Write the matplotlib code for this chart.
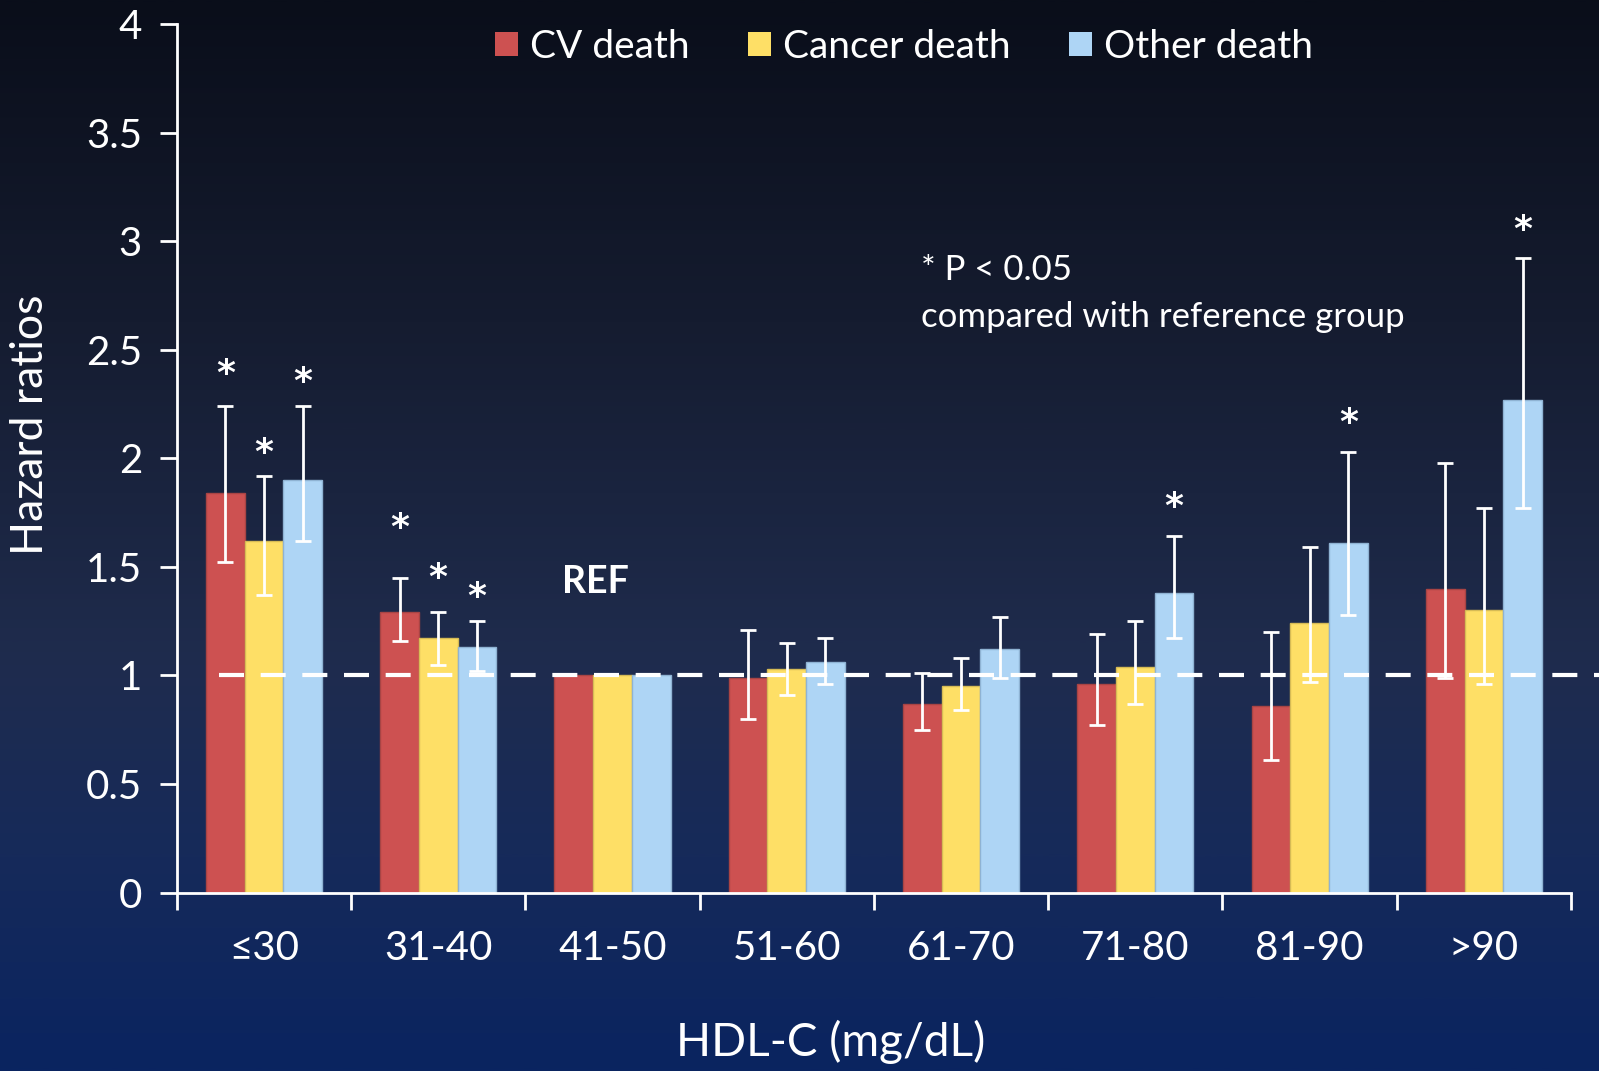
import numpy as np
import matplotlib
matplotlib.use("Agg")
import matplotlib.pyplot as plt
from matplotlib.colors import LinearSegmentedColormap
from matplotlib.patches import Patch
import matplotlib.transforms as mtransforms

plt.rcParams['font.family'] = ['Lato', 'DejaVu Sans']

categories = ["≤30", "31-40", "41-50", "51-60", "61-70", "71-80", "81-90", ">90"]
series_names = ["CV death", "Cancer death", "Other death"]

cv_hr =      [1.84, 1.29, 1.00, 0.99, 0.87, 0.96, 0.86, 1.40]
cv_lo =      [1.52, 1.16, None, 0.80, 0.75, 0.77, 0.61, 0.99]
cv_hi =      [2.24, 1.45, None, 1.21, 1.01, 1.19, 1.20, 1.98]

cancer_hr =  [1.62, 1.17, 1.00, 1.03, 0.95, 1.04, 1.24, 1.30]
cancer_lo =  [1.37, 1.05, None, 0.91, 0.84, 0.87, 0.97, 0.96]
cancer_hi =  [1.92, 1.29, None, 1.15, 1.08, 1.25, 1.59, 1.77]

other_hr =   [1.90, 1.13, 1.00, 1.06, 1.12, 1.38, 1.61, 2.27]
other_lo =   [1.62, 1.02, None, 0.96, 0.99, 1.17, 1.28, 1.77]
other_hi =   [2.24, 1.25, None, 1.17, 1.27, 1.64, 2.03, 2.92]

# significance flags (P < 0.05)
cv_sig =     [True, True, False, False, False, False, False, False]
cancer_sig = [True, True, False, False, False, False, False, False]
other_sig =  [True, True, False, False, False, True, True, True]

yticks = [0, 0.5, 1, 1.5, 2, 2.5, 3, 3.5, 4]
ytick_labels = ["0", "0.5", "1", "1.5", "2", "2.5", "3", "3.5", "4"]

colors = ["#cd5151", "#fedf66", "#aed5f5"]
edges = ["#a84444", "#d6bb55", "#8fb3d3"]

W, H = 1599, 1071
fig = plt.figure(figsize=(W / 100, H / 100), dpi=100)

# background gradient
bg = fig.add_axes([0, 0, 1, 1], zorder=-10)
cmap = LinearSegmentedColormap.from_list(
    "bg", [(0.0, "#0a0e1a"), (0.3, "#151c30"), (0.62, "#1f2c4e"),
           (0.8, "#162a5a"), (1.0, "#0a2460")])
grad = np.linspace(0, 1, 512).reshape(-1, 1)
bg.imshow(grad, aspect="auto", cmap=cmap, extent=[0, 1, 0, 1], origin="upper")
bg.axis("off")

ax = fig.add_axes([176.8 / W, 178.5 / H, (1571 - 176.8) / W, (892.5 - 24) / H])
ax.set_facecolor("none")

x = np.arange(len(categories))
bw = 0.222
series = [(cv_hr, cv_lo, cv_hi, cv_sig),
          (cancer_hr, cancer_lo, cancer_hi, cancer_sig),
          (other_hr, other_lo, other_hi, other_sig)]

# star offsets above error bar top, in pixels
star_px = [[32, 50, 0, 0, 0, 0, 0, 0],
           [23, 34, 0, 0, 0, 0, 0, 0],
           [24, 24, 0, 0, 0, 29, 29, 28]]
px_per_unit = (892.5 - 24) / 4.0

for i, (hr, lo, hi, sig) in enumerate(series):
    xs = x + (i - 1) * bw
    ax.bar(xs, hr, width=bw, color=colors[i], edgecolor=edges[i], linewidth=1, zorder=2)
    for j in range(len(categories)):
        if lo[j] is None:
            continue
        ax.errorbar(xs[j], hr[j], yerr=[[hr[j] - lo[j]], [hi[j] - hr[j]]],
                    fmt="none", ecolor="white", elinewidth=2, capsize=6,
                    capthick=2, zorder=4)
        if sig[j]:
            ax.text(xs[j], hi[j] + star_px[i][j] / px_per_unit, "*", color="white",
                    ha="center", va="center", fontsize=26, fontweight="bold",
                    family=["DejaVu Sans"], zorder=5)

# reference dashed line extending beyond the axis
trans = mtransforms.blended_transform_factory(ax.transAxes, ax.transData)
ax.plot([0.03, 1.03], [1, 1], transform=trans, color="white", lw=3,
        dashes=(6, 4), clip_on=False, zorder=3)

ax.set_xlim(-0.5, len(categories) - 0.5)
ax.set_ylim(0, 4)

ax.set_yticks(yticks)
ax.set_yticklabels(ytick_labels)
ax.set_xticks(np.arange(len(categories) + 1) - 0.5)
ax.set_xticklabels([])
ax.set_xticks(x, minor=True)
ax.set_xticklabels(categories, minor=True)
ax.tick_params(axis="x", which="major", direction="out", length=12, width=2, color="white")
ax.tick_params(axis="x", which="minor", length=0, pad=27, labelsize=29, labelcolor="white")
ax.tick_params(axis="y", direction="out", length=12, width=2, color="white",
               labelsize=29, labelcolor="white", pad=13)

for s in ["top", "right"]:
    ax.spines[s].set_visible(False)
for s in ["left", "bottom"]:
    ax.spines[s].set_color("white")
    ax.spines[s].set_linewidth(2)

fig.text(31 / W, 1 - 425 / H, "Hazard ratios", color="white", fontsize=32,
         rotation=90, ha="center", va="center")
fig.text(831 / W, 1 - 1042 / H, "HDL-C (mg/dL)", color="white", fontsize=33,
         ha="center", va="center")

# REF label above the reference group
ax.text(x[2] - 0.1, 1.43, "REF", color="white", fontsize=27, fontweight="bold",
        ha="center", va="center")

fig.text(921 / W, 1 - 270 / H, "* P < 0.05", color="white", fontsize=25,
         ha="left", va="center")
fig.text(921 / W, 1 - 317 / H, "compared with reference group", color="white",
         fontsize=25, ha="left", va="center")

handles = [Patch(facecolor=c, edgecolor="none") for c in colors]
ax.legend(handles, series_names, loc="upper center", bbox_to_anchor=(0.5216, 1.035),
          ncol=3, frameon=False, fontsize=28, labelcolor="white",
          handlelength=0.6, handleheight=0.6, handletextpad=0.3, columnspacing=1.5)

fig.savefig("out.png", dpi=100)
